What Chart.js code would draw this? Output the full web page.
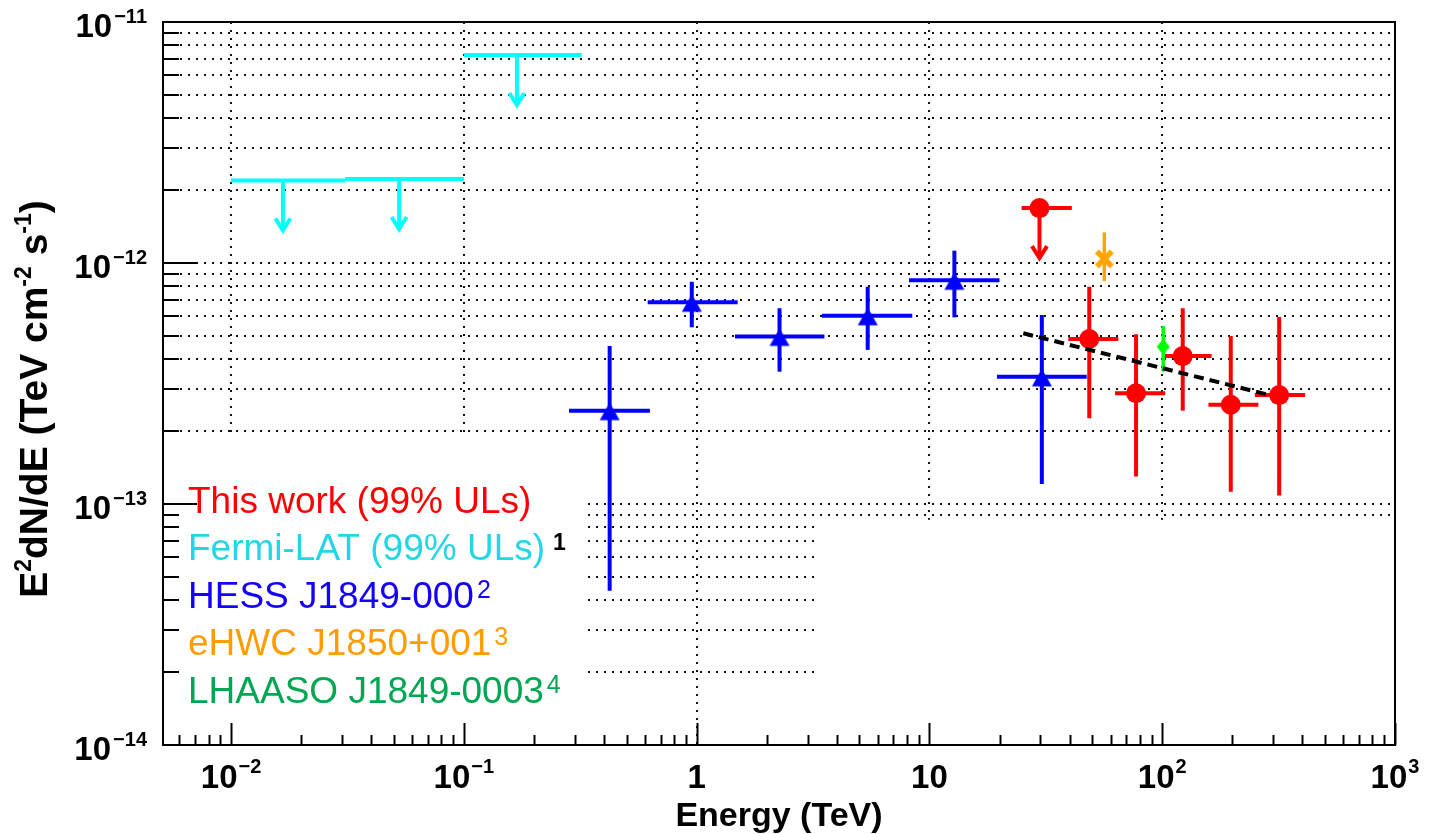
<!DOCTYPE html>
<html>
<head>
<meta charset="utf-8">
<script src="https://cdn.jsdelivr.net/npm/chart.js@4.4.1/dist/chart.umd.min.js"></script>
<style>
  html, body { margin: 0; padding: 0; background: #fff; overflow: hidden; }
  canvas { display: block; }
</style>
</head>
<body>
<canvas id="sed" width="1431" height="834"></canvas>
<script>
// ---------------- spectral points (E in TeV, E^2 dN/dE in TeV cm^-2 s^-1) ----------------
const fermiE      = [0.0167, 0.0527, 0.169];
const fermiEmin   = [0.0100, 0.0309, 0.100];
const fermiEmax   = [0.0309, 0.100, 0.321];
const fermiUL     = [2.20e-12, 2.23e-12, 7.30e-12];

const hessE       = [0.423, 0.953, 2.27, 5.43, 12.8, 30.4];
const hessEmin    = [0.283, 0.616, 1.46, 3.45, 8.17, 19.5];
const hessEmax    = [0.630, 1.50, 3.54, 8.44, 20.0, 47.4];
const hessFlux    = [2.44e-13, 6.87e-13, 4.96e-13, 6.04e-13, 8.48e-13, 3.37e-13];
const hessFluxLo  = [4.37e-14, 5.41e-13, 3.54e-13, 4.36e-13, 5.95e-13, 1.21e-13];
const hessFluxHi  = [4.52e-13, 8.36e-13, 6.49e-13, 7.97e-13, 1.125e-12, 6.08e-13];

const workE       = [29.7, 48.6, 77.2, 122.5, 197, 318];
const workEmin    = [24.9, 39.5, 62.7, 101, 158, 250];
const workEmax    = [40.9, 64.8, 103, 163, 259, 411];
const workFlux    = [1.69e-12, 4.84e-13, 2.88e-13, 4.11e-13, 2.58e-13, 2.83e-13];
const workFluxLo  = [null, 2.27e-13, 1.30e-13, 2.44e-13, 1.125e-13, 1.085e-13];
const workFluxHi  = [null, 7.97e-13, 5.06e-13, 6.49e-13, 4.98e-13, 5.97e-13];
const workIsUL    = [true, false, false, false, false, false];

const ehwcE       = [56.4];
const ehwcFlux    = [1.04e-12];
const ehwcFluxLo  = [8.42e-13];
const ehwcFluxHi  = [1.34e-12];

const lhaasoE      = [101];
const lhaasoFlux   = [4.49e-13];
const lhaasoFluxLo = [3.54e-13];
const lhaasoFluxHi = [5.48e-13];

const fitE    = [25.3, 290];
const fitFlux = [5.11e-13, 2.83e-13];

// ---------------- axis ticks and labels ----------------
const xDecades      = [0.001, 0.01, 0.1, 1, 10, 100, 1000];
const xDecadeLabels = [null, ['10', '\u22122'], ['10', '\u22121'], ['1', ''], ['10', ''], ['10', '2'], ['10', '3']];
const yDecades      = [1e-14, 1e-13, 1e-12, 1e-11];
const yDecadeLabels = [['10', '\u221214'], ['10', '\u221213'], ['10', '\u221212'], ['10', '\u221211']];
const xTitle = 'Energy (TeV)';
const yTitleParts = [['E', 0], ['2', 1], ['dN/dE (TeV cm', 0], ['-2', 1], [' s', 0], ['-1', 1], [')', 0]];

// ---------------- legend ----------------
const legendText      = ['This work (99% ULs)', 'Fermi-LAT (99% ULs)', 'HESS J1849-000', 'eHWC J1850+001', 'LHAASO J1849-0003'];
const legendSup       = ['', '1', '2', '3', '4'];
const legendColor     = ['#ff0000', '#22d6e6', '#1400ff', '#ff9d00', '#00a651'];
const legendSupColor  = ['#ff0000', '#000000', '#1400ff', '#ff9d00', '#00a651'];

// ---------------- helpers ----------------
function points(e, f, emin, emax, flo, fhi, ul) {
  return e.map((x, i) => ({
    x, y: f[i],
    xMin: emin ? emin[i] : null, xMax: emax ? emax[i] : null,
    yMin: flo ? flo[i] : null, yMax: fhi ? fhi[i] : null,
    ul: ul ? ul[i] : false
  }));
}

function markerCanvas(w, h, paint) {
  const c = document.createElement('canvas');
  c.width = w; c.height = h;
  paint(c.getContext('2d'), w / 2, h / 2);
  return c;
}
const triangleMarker = markerCanvas(26, 26, (g, cx, cy) => {
  g.fillStyle = '#0000ff';
  g.beginPath();
  g.moveTo(cx, cy - 8);
  g.lineTo(cx + 10, cy + 9.5);
  g.lineTo(cx - 10, cy + 9.5);
  g.closePath();
  g.fill();
});
const diamondMarker = markerCanvas(18, 22, (g, cx, cy) => {
  g.fillStyle = '#00ff00';
  g.beginPath();
  g.moveTo(cx, cy - 8);
  g.lineTo(cx + 6.5, cy);
  g.lineTo(cx, cy + 8);
  g.lineTo(cx - 6.5, cy);
  g.closePath();
  g.fill();
});
const crossMarker = markerCanvas(24, 24, (g, cx, cy) => {
  g.strokeStyle = '#ffa500';
  g.lineWidth = 5.5;
  g.beginPath();
  g.moveTo(cx - 7.5, cy - 7.5); g.lineTo(cx + 7.5, cy + 7.5);
  g.moveTo(cx - 7.5, cy + 7.5); g.lineTo(cx + 7.5, cy - 7.5);
  g.stroke();
});

// ---------------- ROOT-style frame, dotted grid, ticks and labels ----------------
const FONT = '"Liberation Sans", Arial, Helvetica, sans-serif';
const ARROW_LEN = 51;

function seg(ctx, x1, y1, x2, y2) {
  ctx.beginPath(); ctx.moveTo(x1, y1); ctx.lineTo(x2, y2); ctx.stroke();
}

const framePlugin = {
  id: 'rootFrame',
  beforeDatasetsDraw(chart) {
    const { ctx, chartArea: a, scales: { x, y } } = chart;
    ctx.save();

    // dotted grid: horizontal at every y tick, vertical at x decades
    ctx.strokeStyle = '#111';
    ctx.lineWidth = 2;
    ctx.setLineDash([2, 6]);
    yDecades.forEach(d => {
      for (let m = 1; m <= 9; m++) {
        const v = d * m;
        if (v <= y.min * 1.0001 || v > y.max * 1.0001) continue;
        const py = Math.round(y.getPixelForValue(v));
        seg(ctx, a.left + 1, py, a.right, py);
      }
    });
    xDecades.forEach(d => {
      if (d <= x.min || d >= x.max) return;
      const px = Math.round(x.getPixelForValue(d));
      seg(ctx, px, a.top, px, a.bottom);
    });
    ctx.setLineDash([]);

    // opaque panels over the lower part of the grid
    ctx.fillStyle = '#ffffff';
    const pA = { x0: a.left + 1, x1: x.getPixelForValue(0.33), y0: y.getPixelForValue(2e-13) + 1.5, y1: a.bottom - 1 };
    ctx.fillRect(pA.x0, pA.y0, pA.x1 - pA.x0, pA.y1 - pA.y0);
    const pB = { x0: x.getPixelForValue(3.29), x1: a.right - 1, y0: y.getPixelForValue(8.6e-14), y1: a.bottom - 1 };
    ctx.fillRect(pB.x0, pB.y0, pB.x1 - pB.x0, pB.y1 - pB.y0);

    // frame
    ctx.strokeStyle = '#000';
    ctx.lineWidth = 2;
    ctx.strokeRect(a.left, a.top, a.right - a.left, a.bottom - a.top);

    // bottom ticks (pointing up)
    xDecades.forEach(d => {
      for (let m = 1; m <= 9; m++) {
        const v = d * m;
        if (v < x.min || v > x.max * 1.0001) continue;
        const px = Math.round(x.getPixelForValue(v)) + 0.5;
        seg(ctx, px, a.bottom, px, a.bottom - (m === 1 ? 22 : 10));
      }
    });
    // left ticks (pointing right)
    yDecades.forEach(d => {
      for (let m = 1; m <= 9; m++) {
        const v = d * m;
        if (v < y.min * 0.9999 || v > y.max * 1.0001) continue;
        const py = Math.round(y.getPixelForValue(v));
        seg(ctx, a.left, py, a.left + (m === 1 ? 34 : 16), py);
      }
    });

    // tick labels
    ctx.fillStyle = '#000';
    ctx.textBaseline = 'alphabetic';
    const bigFont = 'bold 33px ' + FONT;
    const supFont = 'bold 20px ' + FONT;
    xDecades.forEach((d, i) => {
      const lab = xDecadeLabels[i];
      if (!lab) return;
      const px = x.getPixelForValue(d);
      ctx.font = bigFont;
      const wb = ctx.measureText(lab[0]).width;
      ctx.font = supFont;
      const we = lab[1] ? ctx.measureText(lab[1]).width + 1 : 0;
      const x0 = px - (wb + we) / 2;
      ctx.font = bigFont; ctx.textAlign = 'left';
      ctx.fillText(lab[0], x0, a.bottom + 43);
      if (lab[1]) { ctx.font = supFont; ctx.fillText(lab[1], x0 + wb + 1, a.bottom + 28); }
    });
    yDecades.forEach((d, i) => {
      const lab = yDecadeLabels[i];
      const py = y.getPixelForValue(d);
      const right = a.left - 16;
      ctx.font = supFont;
      const we = ctx.measureText(lab[1]).width;
      ctx.textAlign = 'right';
      ctx.fillText(lab[1], right, py + 1);
      ctx.font = bigFont;
      ctx.fillText(lab[0], right - we - 2, py + 15);
    });

    // axis titles
    ctx.font = 'bold 34px ' + FONT;
    ctx.textAlign = 'center';
    ctx.fillText(xTitle, (a.left + a.right) / 2, 826);

    ctx.save();
    ctx.translate(47, 399);
    ctx.rotate(-Math.PI / 2);
    const mainF = 'bold 39px ' + FONT, subF = 'bold 23px ' + FONT;
    let total = 0;
    yTitleParts.forEach(([t, s]) => { ctx.font = s ? subF : mainF; total += ctx.measureText(t).width; });
    let cx = -total / 2;
    ctx.textAlign = 'left';
    yTitleParts.forEach(([t, s]) => {
      ctx.font = s ? subF : mainF;
      ctx.fillText(t, cx, s ? -16 : 0);
      cx += ctx.measureText(t).width;
    });
    ctx.restore();

    // error bars and upper-limit arrows
    chart.data.datasets.forEach((ds, di) => {
      if (!ds.errorColor) return;
      const meta = chart.getDatasetMeta(di);
      ctx.strokeStyle = ds.errorColor;
      ctx.lineWidth = ds.errorWidth || 4;
      ctx.lineCap = 'butt';
      ds.data.forEach((p, j) => {
        const el = meta.data[j];
        const px = el.x, py = el.y;
        if (p.xMin != null) seg(ctx, x.getPixelForValue(p.xMin), py, x.getPixelForValue(p.xMax), py);
        if (p.yMin != null) seg(ctx, px, y.getPixelForValue(p.yMax), px, y.getPixelForValue(p.yMin));
        if (p.ul) {
          const tip = py + ARROW_LEN;
          seg(ctx, px, py, px, tip - 2);
          ctx.lineJoin = 'miter';
          ctx.beginPath();
          ctx.moveTo(px - 7.5, tip - 13);
          ctx.lineTo(px, tip - 1);
          ctx.lineTo(px + 7.5, tip - 13);
          ctx.stroke();
        }
      });
    });

    ctx.restore();
  },
  afterDraw(chart) {
    const { ctx } = chart;
    ctx.save();
    ctx.textBaseline = 'alphabetic';
    ctx.textAlign = 'left';
    legendText.forEach((t, i) => {
      const base = 512.5 + i * 47.6;
      ctx.font = '37px ' + FONT;
      ctx.fillStyle = legendColor[i];
      ctx.fillText(t, 188, base);
      const w = ctx.measureText(t).width;
      if (legendSup[i]) {
        const black = legendSupColor[i] === '#000000';
        ctx.font = (black ? 'bold 23px ' : '25px ') + FONT;
        ctx.fillStyle = legendSupColor[i];
        ctx.fillText(legendSup[i], 188 + w + (black ? 8 : 3), base - (black ? 10 : 10));
      }
    });
    ctx.restore();
  }
};

// ---------------- chart ----------------
new Chart(document.getElementById('sed'), {
  type: 'scatter',
  data: {
    datasets: [
      {
        label: 'Power-law fit',
        type: 'line',
        data: fitE.map((x, i) => ({ x, y: fitFlux[i] })),
        showLine: true,
        borderColor: '#000',
        borderWidth: 4,
        borderDash: [10, 6],
        pointRadius: 0,
        fill: false,
        order: 0
      },
      {
        label: 'This work',
        data: points(workE, workFlux, workEmin, workEmax, workFluxLo, workFluxHi, workIsUL),
        pointStyle: 'circle',
        pointRadius: 10,
        pointBorderWidth: 0,
        pointBackgroundColor: '#ff0000',
        errorColor: '#ff0000',
        errorWidth: 4,
        order: 1
      },
      {
        label: 'LHAASO J1849-0003',
        data: points(lhaasoE, lhaasoFlux, null, null, lhaasoFluxLo, lhaasoFluxHi),
        pointStyle: diamondMarker,
        pointRadius: 9,
        errorColor: '#00ff00',
        errorWidth: 3.5,
        order: 2
      },
      {
        label: 'eHWC J1850+001',
        data: points(ehwcE, ehwcFlux, null, null, ehwcFluxLo, ehwcFluxHi),
        pointStyle: crossMarker,
        pointRadius: 9,
        errorColor: '#ffa500',
        errorWidth: 3.5,
        order: 3
      },
      {
        label: 'HESS J1849-000',
        data: points(hessE, hessFlux, hessEmin, hessEmax, hessFluxLo, hessFluxHi),
        pointStyle: triangleMarker,
        pointRadius: 9,
        errorColor: '#0000ff',
        errorWidth: 4,
        order: 4
      },
      {
        label: 'Fermi-LAT',
        data: points(fermiE, fermiUL, fermiEmin, fermiEmax, null, null, fermiE.map(() => true)),
        pointRadius: 0,
        errorColor: '#00ffff',
        errorWidth: 4,
        order: 5
      }
    ]
  },
  options: {
    responsive: false,
    animation: false,
    devicePixelRatio: 1,
    events: [],
    layout: { padding: { left: 163, top: 22, right: 36, bottom: 89 } },
    plugins: { legend: { display: false }, tooltip: { enabled: false }, title: { display: false } },
    scales: {
      x: { type: 'logarithmic', min: 0.0051, max: 1000, display: false },
      y: { type: 'logarithmic', min: 1e-14, max: 1e-11, display: false }
    }
  },
  plugins: [framePlugin]
});
</script>
</body>
</html>
